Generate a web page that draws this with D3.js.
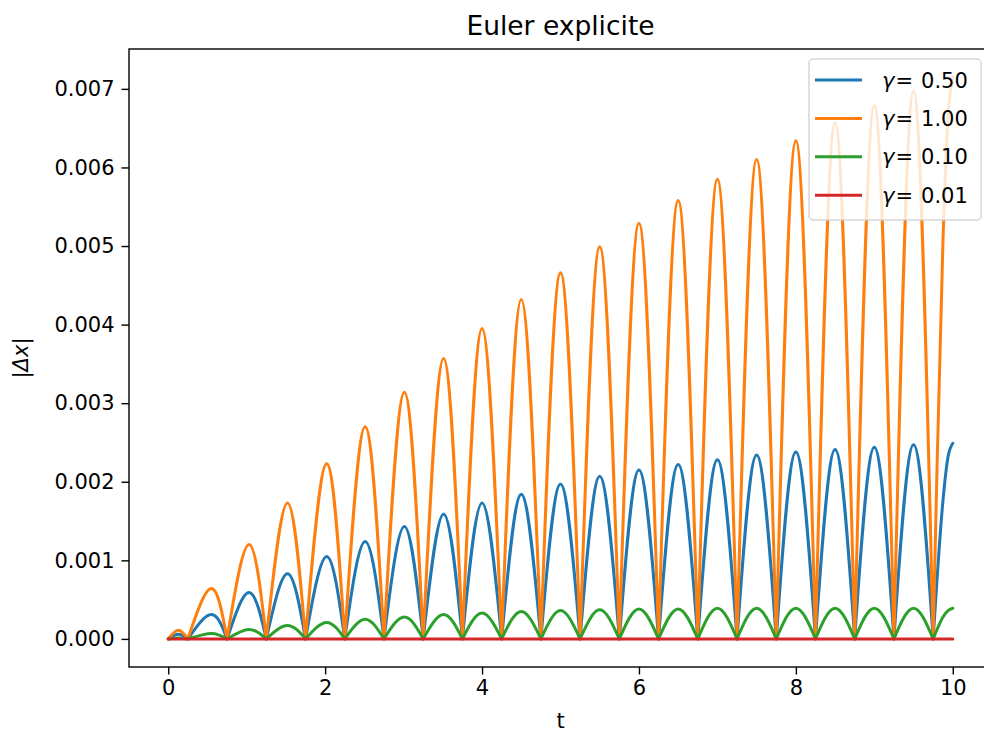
<!DOCTYPE html>
<html>
<head>
<meta charset="utf-8">
<script src="https://cdn.jsdelivr.net/npm/d3@7"></script>
<style>
  body { margin: 0; background: #fff; }
  svg { display: block; }
  text { font-family: "DejaVu Sans", sans-serif; fill: #000; }
</style>
</head>
<body>
<svg id="chart" width="984" height="734"></svg>
<script>
// Times where |Δx| returns to zero (start of each arch) and times of each arch's maximum
const zeroT = [0, 0.25, 0.75, 1.25, 1.75, 2.25, 2.75, 3.25, 3.75, 4.25, 4.75,
               5.25, 5.75, 6.25, 6.75, 7.25, 7.75, 8.25, 8.75, 9.25, 9.75];
const peakT = [0.13, 0.55, 1.03, 1.52, 2.02, 2.51, 3.01, 3.51, 4.0, 4.5,
               5.0, 5.5, 6.0, 6.5, 7.0, 7.5, 8.0, 8.5, 9.0, 9.5];
// Last rising part of the run, from the final zero up to t = 10
const tailT = [9.75, 9.8, 9.875, 9.94, 10];

// Arch maxima of |Δx| for each damping value
const peaksGamma050 = [0.00006, 0.00031, 0.00059, 0.00083, 0.00105, 0.00124, 0.00143, 0.00159, 0.00173, 0.00184,
                       0.00197, 0.00207, 0.00215, 0.00222, 0.00228, 0.00234, 0.00238, 0.00241, 0.00244, 0.00247];
const peaksGamma100 = [0.00011, 0.00064, 0.00120, 0.00173, 0.00223, 0.00270, 0.00314, 0.00357, 0.00395, 0.00432,
                       0.00466, 0.00499, 0.00529, 0.00558, 0.00585, 0.00610, 0.00634, 0.00657, 0.00679, 0.00697];
const peaksGamma010 = [0.00001, 0.00007, 0.00012, 0.00017, 0.00021, 0.00025, 0.00028, 0.00031, 0.00033, 0.00035,
                       0.00036, 0.00037, 0.00038, 0.00038, 0.00039, 0.00039, 0.00039, 0.00039, 0.00039, 0.00039];
const peaksGamma001 = [0, 0, 0, 0, 0, 0, 0, 0, 0, 0,
                       0, 0, 0, 0, 0, 0, 0, 0, 0, 0];

const tailGamma050 = [0, 0.00077, 0.00176, 0.00232, 0.00249];
const tailGamma100 = [0, 0.00221, 0.00506, 0.00665, 0.00715];
const tailGamma010 = [0, 0.00012, 0.00028, 0.00036, 0.00039];
const tailGamma001 = [0, 0, 0, 0, 0];

const gammaLabels = ["0.50", "1.00", "0.10", "0.01"];
const xTicks = [0, 2, 4, 6, 8, 10];
const yTicks = [0, 0.001, 0.002, 0.003, 0.004, 0.005, 0.006, 0.007];

const seriesList = [
  { label: gammaLabels[0], peaks: peaksGamma050, tail: tailGamma050, color: "#1f77b4" },
  { label: gammaLabels[1], peaks: peaksGamma100, tail: tailGamma100, color: "#ff7f0e" },
  { label: gammaLabels[2], peaks: peaksGamma010, tail: tailGamma010, color: "#2ca02c" },
  { label: gammaLabels[3], peaks: peaksGamma001, tail: tailGamma001, color: "#d62728" }
];

const svg = d3.select("#chart");
const plot = { left: 129, right: 992, top: 49, bottom: 667 };

const x = d3.scaleLinear().domain([-0.5, 10.5]).range([plot.left, plot.right]);
const y = d3.scaleLinear().domain([-0.0003575, 0.0075075]).range([plot.bottom, plot.top]);

// Each arch is a smooth hump between two zeros
const archLine = d3.line().x(d => x(d[0])).y(d => y(d[1])).curve(d3.curveNatural);
const tailLine = d3.line().x(d => x(d[0])).y(d => y(d[1])).curve(d3.curveMonotoneX);

function seriesPath(s) {
  let d = "";
  s.peaks.forEach((p, i) => {
    d += archLine([[zeroT[i], 0], [peakT[i], p], [zeroT[i + 1], 0]]);
  });
  d += tailLine(tailT.map((t, i) => [t, s.tail[i]]));
  return d;
}

const lines = svg.append("g");
seriesList.forEach(s => {
  lines.append("path")
    .attr("d", seriesPath(s))
    .attr("fill", "none")
    .attr("stroke", s.color)
    .attr("stroke-width", 3)
    .attr("stroke-linecap", "round")
    .attr("stroke-linejoin", "round");
});

// Axes
const fontSize = 21;
const xAxis = svg.append("g")
  .attr("transform", `translate(0,${plot.bottom})`)
  .call(d3.axisBottom(x).tickValues(xTicks).tickFormat(d3.format("d")).tickSize(7.5).tickPadding(6));
const yAxis = svg.append("g")
  .attr("transform", `translate(${plot.left},0)`)
  .call(d3.axisLeft(y).tickValues(yTicks).tickFormat(d3.format(".3f")).tickSize(7.5).tickPadding(7));
[xAxis, yAxis].forEach(g => {
  g.select(".domain").remove();
  g.selectAll(".tick line").attr("stroke", "#000").attr("stroke-width", 1.4);
  g.selectAll(".tick text")
    .attr("font-family", "DejaVu Sans")
    .attr("font-size", fontSize)
    .attr("fill", "#000");
});

// Frame around the plotting area
svg.append("rect")
  .attr("x", plot.left).attr("y", plot.top)
  .attr("width", plot.right - plot.left).attr("height", plot.bottom - plot.top)
  .attr("fill", "none").attr("stroke", "#000").attr("stroke-width", 1.4);

// Title and axis labels
const cx = (plot.left + plot.right) / 2;
svg.append("text")
  .attr("x", cx).attr("y", 35)
  .attr("text-anchor", "middle")
  .attr("font-size", 26.5)
  .text("Euler explicite");

svg.append("text")
  .attr("x", cx).attr("y", 728)
  .attr("text-anchor", "middle")
  .attr("font-size", fontSize)
  .text("t");

const yl = svg.append("text")
  .attr("transform", `translate(28,${(plot.top + plot.bottom) / 2}) rotate(-90)`)
  .attr("text-anchor", "middle")
  .attr("font-size", fontSize);
yl.append("tspan").text("|");
yl.append("tspan").attr("font-style", "italic").text("Δx");
yl.append("tspan").text("|");

// Legend
const legend = svg.append("g").attr("transform", "translate(809,59)");
legend.append("rect")
  .attr("x", 0).attr("y", 0)
  .attr("width", 172).attr("height", 161)
  .attr("rx", 4).attr("ry", 4)
  .attr("fill", "#fff").attr("fill-opacity", 0.8)
  .attr("stroke", "#cccccc").attr("stroke-opacity", 0.8).attr("stroke-width", 1.5);

seriesList.forEach((s, i) => {
  const row = legend.append("g").attr("transform", `translate(0,${21 + i * 38.4})`);
  row.append("line")
    .attr("x1", 6).attr("x2", 53)
    .attr("y1", 0).attr("y2", 0)
    .attr("stroke", s.color).attr("stroke-width", 3);
  const t = row.append("text")
    .attr("x", 73).attr("y", 7.5)
    .attr("font-size", fontSize);
  t.append("tspan").attr("font-style", "italic").text("γ");
  t.append("tspan").attr("dx", 1).text("=");
  t.append("tspan").attr("dx", 8).text(s.label);
});
</script>
</body>
</html>
